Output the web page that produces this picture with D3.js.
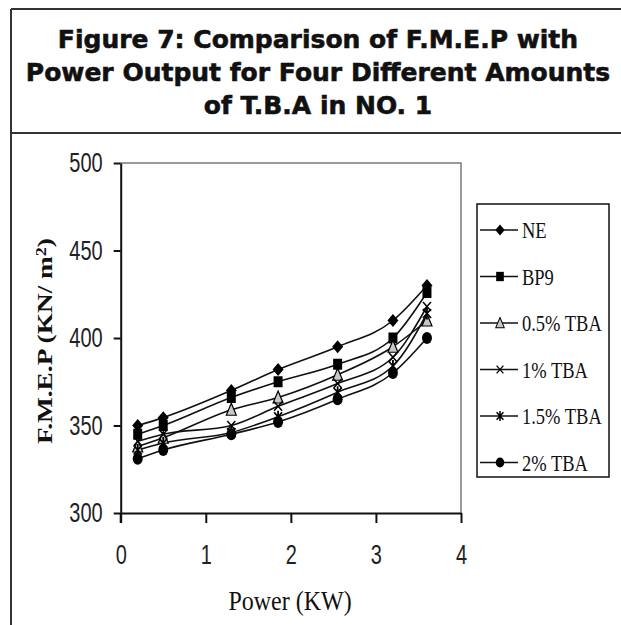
<!DOCTYPE html>
<html>
<head>
<meta charset="utf-8">
<script src="https://cdn.jsdelivr.net/npm/d3@7"></script>
<style>
  body { margin: 0; background: #fff; }
  svg { display: block; }
</style>
</head>
<body>
<div id="chart"></div>
<script>
// Data
const titleLines = [
  "Figure 7: Comparison of F.M.E.P with",
  "Power Output for Four Different Amounts",
  "of T.B.A in NO. 1"
];
const powerKW = [0.2, 0.5, 1.3, 1.85, 2.55, 3.2, 3.6];
const seriesNames = ["NE", "BP9", "0.5% TBA", "1% TBA", "1.5% TBA", "2% TBA"];
const fmepNE     = [350, 354.5, 370, 382, 395, 410, 430];
const fmepBP9    = [345, 350, 366, 375, 385, 400, 426];
const fmepTBA05  = [338, 343, 359, 366, 379, 395, 410];
const fmepTBA1   = [341, 345, 350, 361, 374, 389, 418];
const fmepTBA15  = [336, 340, 346, 355, 369, 384, 414];
const fmepTBA2   = [331, 336, 345, 352, 365, 380, 400];
const xTicks = [0, 1, 2, 3, 4];
const yTicks = [300, 350, 400, 450, 500];

const seriesValues = [fmepNE, fmepBP9, fmepTBA05, fmepTBA1, fmepTBA15, fmepTBA2];
const markerKinds = ["diamond", "square", "triangle", "times", "asterisk", "circle"];

const W = 621, H = 625;
const svg = d3.select("#chart").append("svg")
  .attr("width", W).attr("height", H);

// outer frame + title separator
const frame = svg.append("g").attr("stroke", "#333").attr("stroke-width", 2);
frame.append("line").attr("x1", 11).attr("x2", W).attr("y1", 9).attr("y2", 9);
frame.append("line").attr("x1", 11).attr("x2", 11).attr("y1", 9).attr("y2", H);
frame.append("line").attr("x1", 11).attr("x2", W).attr("y1", 133).attr("y2", 133);

// title
svg.append("g").selectAll("text")
  .data(titleLines)
  .enter().append("text")
    .attr("x", 318)
    .attr("y", (d, i) => 48 + i * 33)
    .attr("text-anchor", "middle")
    .style("font-family", "'DejaVu Sans', Verdana, sans-serif")
    .style("font-weight", "bold")
    .style("font-size", "25px")
    .attr("fill", "#111")
    .attr("stroke", "#111")
    .attr("stroke-width", 0.6)
    .text(d => d);

// scales
const x = d3.scaleLinear().domain([0, 4]).range([120.7, 461]);
const y = d3.scaleLinear().domain([300, 500]).range([513, 163]);

// plot frame (top + right, grey)
svg.append("path")
  .attr("d", `M${x(0)},${y(500)}H${x(4)}V${y(300)}`)
  .attr("fill", "none")
  .attr("stroke", "#7a7a7a")
  .attr("stroke-width", 1.5);

// axes
const yAxis = svg.append("g")
  .attr("transform", `translate(${x(0)},0)`)
  .call(d3.axisLeft(y).tickValues(yTicks).tickSize(7).tickSizeOuter(0));
yAxis.selectAll("text")
  .attr("x", null).attr("dy", "0.32em")
  .attr("transform", "translate(-18,0) scale(1,1.35)");

const xAxis = svg.append("g")
  .attr("transform", `translate(0,${y(300)})`)
  .call(d3.axisBottom(x).tickValues(xTicks).tickFormat(d3.format("d"))
    .tickSize(10).tickSizeOuter(0));
xAxis.selectAll("text")
  .attr("y", null).attr("dy", "0.35em")
  .attr("transform", "translate(0,42) scale(1,1.35)");

[yAxis, xAxis].forEach(a => {
  a.select(".domain").attr("stroke", "#111").attr("stroke-width", 2);
  a.selectAll(".tick line").attr("stroke", "#111").attr("stroke-width", 2);
  a.selectAll("text")
    .attr("fill", "#222")
    .style("font-family", "'Liberation Sans', Arial, sans-serif")
    .style("font-size", "20px");
});
// y axis runs down to the x tick at 0
svg.append("line")
  .attr("x1", x(0)).attr("x2", x(0))
  .attr("y1", y(300)).attr("y2", y(300) + 10)
  .attr("stroke", "#111").attr("stroke-width", 2);

// axis titles
svg.append("text")
  .attr("transform", "translate(290,610) scale(1,1.13)")
  .attr("text-anchor", "middle")
  .style("font-family", "'Liberation Serif', 'Times New Roman', serif")
  .style("font-size", "24px")
  .attr("fill", "#111")
  .text("Power (KW)");

const yTitle = svg.append("text")
  .attr("transform", "translate(52,341) rotate(-90) scale(1.3,1)")
  .attr("text-anchor", "middle")
  .style("font-family", "'Liberation Serif', 'Times New Roman', serif")
  .style("font-weight", "bold")
  .style("font-size", "21px")
  .attr("fill", "#111");
yTitle.append("tspan").text("F.M.E.P (KN/ m");
yTitle.append("tspan").attr("dy", "-0.45em").style("font-size", "14px").text("2");
yTitle.append("tspan").attr("dy", "0.3em").text(")");

// markers
function marker(g, kind) {
  if (kind === "diamond") {
    g.append("path").attr("d", "M0,-6.5L5.5,0L0,6.5L-5.5,0Z").attr("fill", "#000");
  } else if (kind === "square") {
    g.append("path").attr("d", "M-4.5,-5.5h9v11h-9Z").attr("fill", "#000");
  } else if (kind === "triangle") {
    g.append("path").attr("d", "M0,-6.5L5,5.5L-5,5.5Z")
      .attr("fill", "#c8c8c8").attr("stroke", "#000").attr("stroke-width", 1.2);
  } else if (kind === "times") {
    g.append("path").attr("d", "M-4,-4.5L4,4.5M-4,4.5L4,-4.5")
      .attr("stroke", "#000").attr("stroke-width", 1.5);
  } else if (kind === "asterisk") {
    g.append("path").attr("d", "M-4,-4.5L4,4.5M-4,4.5L4,-4.5M0,-6L0,6")
      .attr("stroke", "#000").attr("stroke-width", 1.8);
  } else {
    g.append("ellipse").attr("rx", 5).attr("ry", 6).attr("fill", "#000");
  }
}

const line = d3.line()
  .x((d, i) => x(powerKW[i]))
  .y(d => y(d))
  .curve(d3.curveMonotoneX);

const plot = svg.append("g");
seriesValues.forEach((vals, s) => {
  plot.append("path")
    .datum(vals)
    .attr("d", line)
    .attr("fill", "none")
    .attr("stroke", "#111")
    .attr("stroke-width", 1.6);
});
seriesValues.forEach((vals, s) => {
  plot.selectAll(null)
    .data(vals)
    .enter().append("g")
      .attr("transform", (d, i) => `translate(${x(powerKW[i])},${y(d)})`)
      .each(function () { marker(d3.select(this), markerKinds[s]); });
});

// legend
const legend = svg.append("g");
legend.append("rect")
  .attr("x", 477).attr("y", 204)
  .attr("width", 132).attr("height", 273)
  .attr("fill", "#fff").attr("stroke", "#111").attr("stroke-width", 1.5);

const items = legend.selectAll(".legend-item")
  .data(seriesNames)
  .enter().append("g")
    .attr("class", "legend-item")
    .attr("transform", (d, i) => `translate(0,${230 + i * 46.5})`);

items.append("line")
  .attr("x1", 480).attr("x2", 518)
  .attr("stroke", "#111").attr("stroke-width", 1.6);
items.append("g")
  .attr("transform", "translate(500,0) scale(0.85)")
  .each(function (d, i) { marker(d3.select(this), markerKinds[i]); });
items.append("text")
  .attr("transform", "translate(522,0) scale(1,1.3)")
  .attr("dy", "0.34em")
  .style("font-family", "'Liberation Serif', 'Times New Roman', serif")
  .style("font-size", "18.5px")
  .attr("fill", "#111")
  .text(d => d);
</script>
</body>
</html>
